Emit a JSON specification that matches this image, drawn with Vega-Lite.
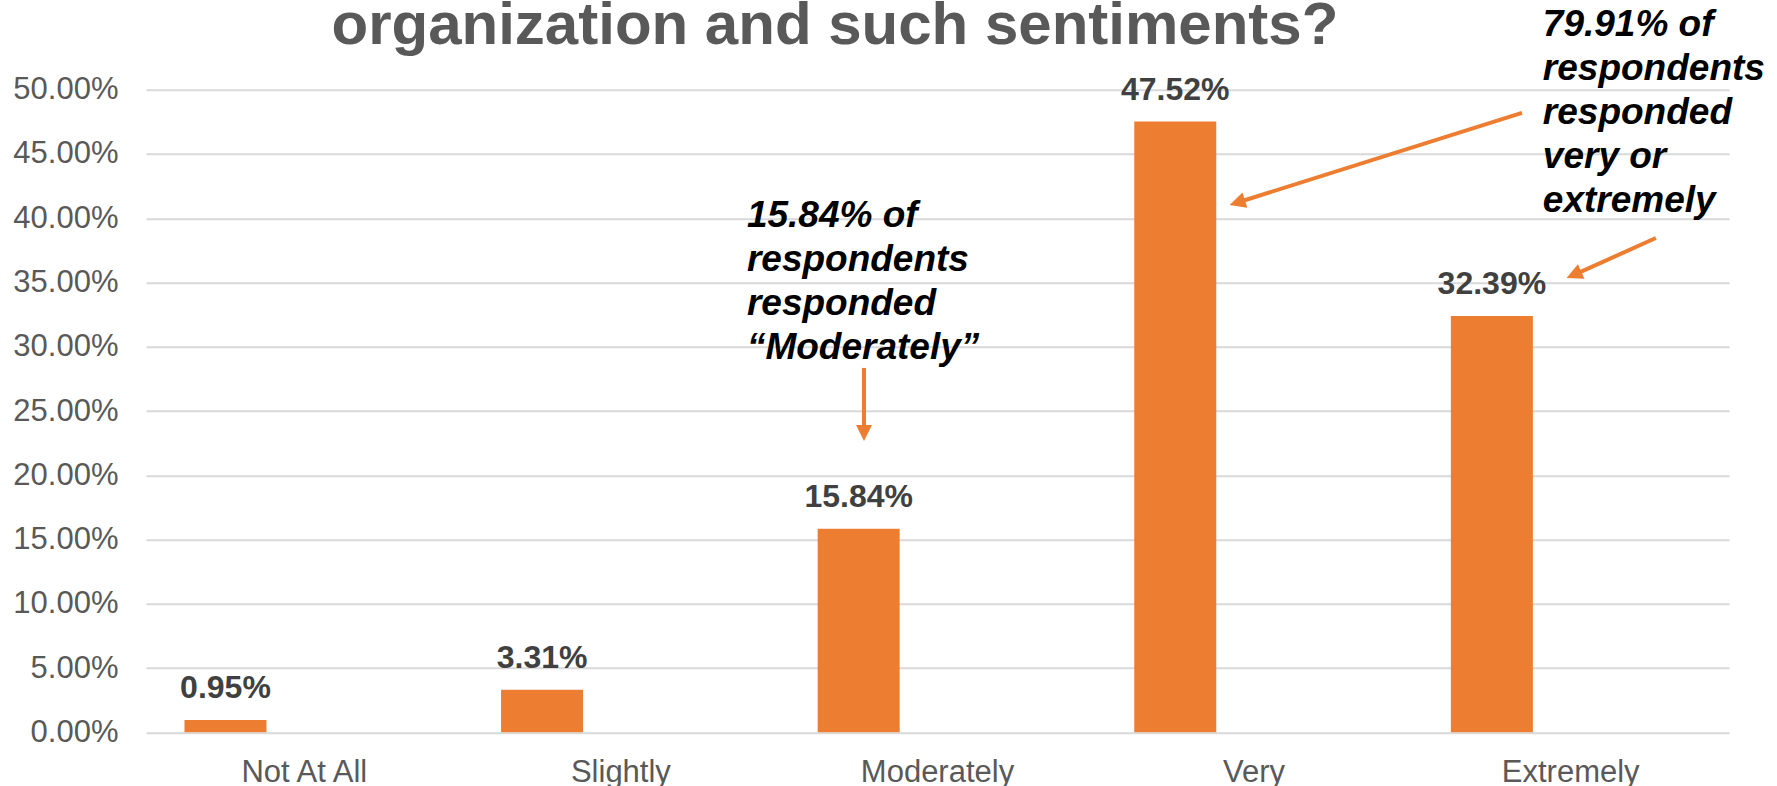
{
  "$schema": "https://vega.github.io/schema/vega-lite/v6.json",
  "autosize": "none",
  "width": 1583,
  "height": 642.6,
  "padding": {"left": 146, "top": 89.7, "right": 48, "bottom": 53.7},
  "background": "white",
  "config": {"view": {"stroke": null}, "font": "Liberation Sans"},
  "datasets": {
    "bars": [
      {"category": "Not At All", "series": "A", "value": 0.0095},
      {"category": "Slightly", "series": "A", "value": 0.0331},
      {"category": "Moderately", "series": "A", "value": 0.1584},
      {"category": "Very", "series": "A", "value": 0.4752},
      {"category": "Extremely", "series": "A", "value": 0.3239}
    ],
    "notes": [
      {"x": 1.898, "y": 0.3934, "label": "15.84% of\nrespondents\nresponded\n“Moderately”"},
      {"x": 4.412, "y": 0.5418, "label": "79.91% of\nrespondents\nresponded\nvery or\nextremely"}
    ],
    "title": [
      {"x": 2.176, "y": 0.5359, "label": "organization and such sentiments?"}
    ],
    "shafts": [
      {"x": 2.2678, "y": 0.2835, "x2": 2.2678, "y2": 0.2368},
      {"x": 4.346, "y": 0.4819, "x2": 3.465, "y2": 0.4136},
      {"x": 4.769, "y": 0.3846, "x2": 4.528, "y2": 0.3579}
    ],
    "heads": [
      {"x": 2.2678, "y": 0.2267, "angle": 0},
      {"x": 3.4227, "y": 0.4103, "angle": 72.5},
      {"x": 4.487, "y": 0.3535, "angle": 65.9}
    ]
  },
  "layer": [
    {
      "data": {"name": "bars"},
      "layer": [
        {
          "mark": {"type": "bar", "color": "#ED7D31"},
          "encoding": {
            "x": {
              "field": "category", "type": "nominal", "sort": null,
              "scale": {"paddingInner": 0, "paddingOuter": 0},
              "axis": {
                "title": null, "domain": false, "ticks": false, "labelAngle": 0,
                "labelFont": "Liberation Sans", "labelFontSize": 31, "labelColor": "#595959",
                "labelPadding": 25, "grid": false
              }
            },
            "xOffset": {
              "field": "series", "type": "nominal",
              "scale": {"domain": ["A", "B"], "paddingInner": 0.48, "paddingOuter": 0.244}
            },
            "y": {
              "field": "value", "type": "quantitative",
              "scale": {"domain": [0, 0.5], "nice": false},
              "axis": {
                "title": null, "format": ".2%", "values": [0, 0.05, 0.1, 0.15, 0.2, 0.25, 0.3, 0.35, 0.4, 0.45, 0.5],
                "domain": false, "ticks": false, "grid": true, "gridColor": "#d9d9d9", "gridWidth": 2,
                "labelFont": "Liberation Sans", "labelFontSize": 31, "labelColor": "#595959", "labelPadding": 28
              }
            }
          }
        },
        {
          "mark": {"type": "text", "font": "Liberation Sans", "fontSize": 32, "fontWeight": "bold", "color": "#404040", "baseline": "alphabetic", "dy": -22},
          "encoding": {
            "x": {"field": "category", "type": "nominal", "sort": null},
            "xOffset": {"field": "series", "type": "nominal"},
            "y": {"field": "value", "type": "quantitative"},
            "text": {"field": "value", "type": "quantitative", "format": ".2%"}
          }
        }
      ]
    },
    {
      "layer": [
        {
          "data": {"name": "shafts"},
          "mark": {"type": "rule", "color": "#ED7D31", "strokeWidth": 4},
          "encoding": {
            "x": {"field": "x", "type": "quantitative", "scale": {"domain": [0, 5], "nice": false, "zero": false}, "axis": null},
            "y": {"field": "y", "type": "quantitative", "scale": {"domain": [0, 0.5], "nice": false}, "axis": null},
            "x2": {"field": "x2"},
            "y2": {"field": "y2"}
          }
        },
        {
          "data": {"name": "heads"},
          "mark": {"type": "point", "shape": "M0,0L-0.5,-1L0.5,-1Z", "filled": true, "color": "#ED7D31", "opacity": 1, "size": 1024},
          "encoding": {
            "x": {"field": "x", "type": "quantitative"},
            "y": {"field": "y", "type": "quantitative"},
            "angle": {"field": "angle", "type": "quantitative", "scale": null}
          }
        },
        {
          "data": {"name": "notes"},
          "mark": {"type": "text", "font": "Liberation Sans", "fontSize": 37, "fontWeight": "bold", "fontStyle": "italic", "color": "#000000", "align": "left", "baseline": "alphabetic", "lineBreak": "\n", "lineHeight": 44},
          "encoding": {
            "x": {"field": "x", "type": "quantitative"},
            "y": {"field": "y", "type": "quantitative"},
            "text": {"field": "label", "type": "nominal"}
          }
        },
        {
          "data": {"name": "title"},
          "mark": {"type": "text", "font": "Liberation Sans", "fontSize": 60, "fontWeight": "bold", "color": "#595959", "align": "center", "baseline": "alphabetic"},
          "encoding": {
            "x": {"field": "x", "type": "quantitative"},
            "y": {"field": "y", "type": "quantitative"},
            "text": {"field": "label", "type": "nominal"}
          }
        }
      ]
    }
  ],
  "resolve": {"scale": {"x": "independent", "y": "independent"}, "axis": {"x": "independent", "y": "independent"}}
}
